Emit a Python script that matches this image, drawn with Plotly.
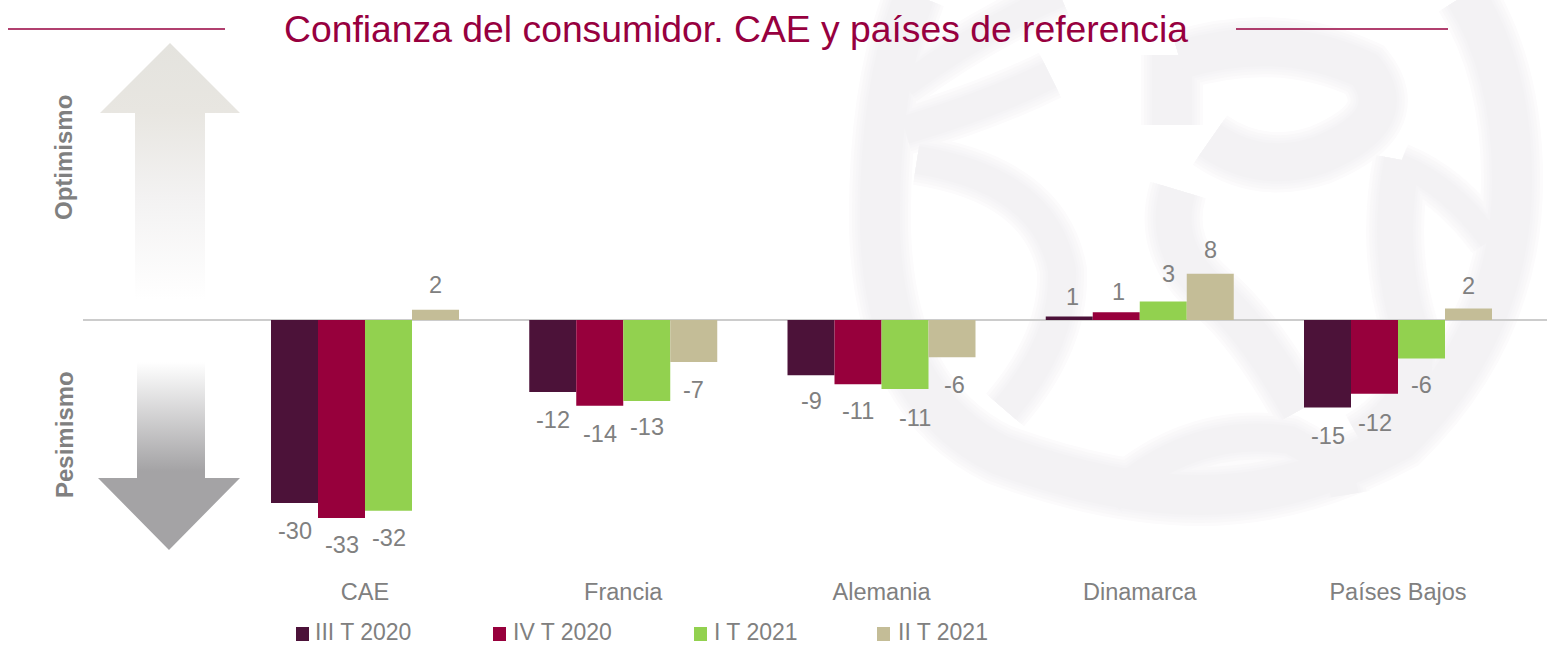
import plotly.graph_objects as go

W, H = 1551, 645

# ---- data ----
categories = ["CAE", "Francia", "Alemania", "Dinamarca", "Países Bajos"]
series_names = ["III T 2020", "IV T 2020", "I T 2021", "II T 2021"]
s_iii_2020 = [-30.5, -12.0, -9.2, 0.6, -14.6]
s_iv_2020 = [-33.0, -14.3, -10.7, 1.3, -12.3]
s_i_2021 = [-31.8, -13.5, -11.5, 3.1, -6.4]
s_ii_2021 = [1.7, -7.0, -6.2, 7.7, 1.9]
labels_iii_2020 = ["-30", "-12", "-9", "1", "-15"]
labels_iv_2020 = ["-33", "-14", "-11", "1", "-12"]
labels_i_2021 = ["-32", "-13", "-11", "3", "-6"]
labels_ii_2021 = ["2", "-7", "-6", "8", "2"]

values = [s_iii_2020, s_iv_2020, s_i_2021, s_ii_2021]
labels = [labels_iii_2020, labels_iv_2020, labels_i_2021, labels_ii_2021]

# ---- styling ----
colors = ["#4C1239", "#97003C", "#92D14F", "#C4BD97"]
GREY = "#808080"
CRIMSON = "#97003F"
FONT = "Liberation Sans"

# label nudges in pixels, per series then per category (dy positive = downwards)
label_dy = [[28, 28, 26, -19, 28], [27, 28, 27, -20, 29], [27, 26, 29, -27, 27], [-25, 28, 28, -24, -23]]
label_dx = [[0, 0, 0, 3, 0], [0, 0, 0, 2, 0], [0, 0, 10, 5, 0], [0, 0, 2, 0, 0]]
legend_square_x = [296, 493, 694, 877]
legend_text_x = [314, 512, 713, 897]
LEGEND_Y = 632

PX_PER_UNIT = 6
ZERO_Y, PLOT_TOP, PLOT_BOTTOM = 320, 40, 575
PLOT_LEFT, PLOT_RIGHT = 83, 1547
CAT0_X, CAT_STEP = 365, 258.25


def px(x):
    return x / W


def py(y):
    return 1 - y / H


fig = go.Figure()

# ---- bars ----
for name, v, c in zip(series_names, values, colors):
    fig.add_trace(go.Bar(name=name, x=categories, y=v, marker=dict(color=c, line=dict(width=0)),
                         showlegend=False, hoverinfo="x+y+name"))

# ---- data labels ----
for si, lab in enumerate(labels):
    for ci, t in enumerate(lab):
        fig.add_annotation(xref="x", yref="y", x=categories[ci], y=values[si][ci], text=t, showarrow=False,
                           xanchor="center", yanchor="middle",
                           xshift=(si - 1.5) * 47 + label_dx[si][ci], yshift=-label_dy[si][ci],
                           font=dict(family=FONT, size=23.5, color=GREY))

# ---- gradient arrows on a full-page pixel overlay ----
fig.add_trace(go.Scatter(x=[170, 240, 205, 205, 135, 135, 100, 170], y=[43, 113, 113, 300, 300, 113, 113, 43],
                         xaxis="x2", yaxis="y2", mode="lines", line=dict(width=0), fill="toself",
                         fillgradient=dict(type="vertical", colorscale=[[0, "#FFFFFF"], [0.4, "#F3F2F2"], [0.73, "#E8E6E1"], [1, "#E4E3DE"]]),
                         showlegend=False, hoverinfo="skip"))
fig.add_trace(go.Scatter(x=[137, 205, 205, 240, 169, 98, 137, 137], y=[362, 362, 478, 478, 550, 478, 478, 362],
                         xaxis="x2", yaxis="y2", mode="lines", line=dict(width=0), fill="toself",
                         fillgradient=dict(type="vertical", colorscale=[[0, "#A4A3A5"], [0.42, "#A4A3A5"], [1, "#FFFFFF"]]),
                         showlegend=False, hoverinfo="skip"))


# ---- soft watermark: strokes drawn wide and pale first, then narrow and darker ----
def path_of(points):
    d = "M%.4f,%.4f" % (px(points[0][0]), py(points[0][1]))
    rest = points[1:]
    for i in range(0, len(rest) - 1, 2):
        d += " Q%.4f,%.4f %.4f,%.4f" % (px(rest[i][0]), py(rest[i][1]), px(rest[i + 1][0]), py(rest[i + 1][1]))
    return d


wm_strokes = [
    ([(915, -5), (878, 90), (880, 230), (885, 400), (1000, 455), (1110, 495), (1200, 495), (1300, 495), (1400, 440), (1512, 330), (1512, 180), (1512, 70), (1465, -5)], 40),
    ([(905, 85), (980, 30), (1060, -5)], 24),
    ([(905, 130), (990, 105), (1050, 75)], 28),
    ([(917, 160), (1045, 180), (1062, 270), (1065, 340), (1005, 410)], 28),
    ([(1172, 55), (1172, 100), (1172, 125)], 40),
    ([(1180, 60), (1280, 30), (1365, 70), (1405, 120), (1320, 155), (1260, 175), (1210, 140)], 38),
    ([(1178, 190), (1160, 250), (1215, 295), (1255, 330), (1300, 410)], 36),
    ([(1402, 160), (1385, 250), (1410, 330), (1430, 400), (1360, 440)], 36),
    ([(1400, 165), (1450, 185), (1490, 240)], 22),
    ([(1110, 500), (1190, 425), (1290, 440), (1340, 465), (1345, 495)], 28),
]
shapes = []
for extra, col in [(22, "#FCFBFC"), (16, "#F9F8F9"), (10, "#F7F6F8"), (5, "#F5F4F6"), (0, "#F3F2F4")]:
    for pts, w in wm_strokes:
        shapes.append(dict(type="path", xref="paper", yref="paper", path=path_of(pts), layer="below",
                           line=dict(color=col, width=w + extra), fillcolor="rgba(0,0,0,0)"))

# ---- title rules ----
for x0, x1 in [(8, 225), (1236, 1448)]:
    shapes.append(dict(type="line", xref="paper", yref="paper", x0=px(x0), x1=px(x1), y0=py(29), y1=py(29),
                       layer="above", line=dict(color=CRIMSON, width=1.5)))

# ---- side labels ----
for text, yc in [("Optimismo", 158), ("Pesimismo", 435)]:
    fig.add_annotation(xref="paper", yref="paper", x=px(64), y=py(yc), text="<b>%s</b>" % text, showarrow=False,
                       textangle=-90, xanchor="center", yanchor="middle",
                       font=dict(family=FONT, size=24, color=GREY))

# ---- legend row ----
for name, c, sx, tx in zip(series_names, colors, legend_square_x, legend_text_x):
    shapes.append(dict(type="rect", xref="paper", yref="paper", x0=px(sx), x1=px(sx + 13),
                       y0=py(627), y1=py(641), layer="above", line=dict(width=0), fillcolor=c))
    fig.add_annotation(xref="paper", yref="paper", x=px(tx), y=py(LEGEND_Y), text=name, showarrow=False,
                       xanchor="left", yanchor="middle", xshift=-1,
                       font=dict(family=FONT, size=23, color=GREY))

fig.update_layout(
    width=W, height=H, autosize=False,
    margin=dict(l=0, r=0, t=0, b=0),
    paper_bgcolor="white", plot_bgcolor="rgba(0,0,0,0)",
    barmode="group", bargap=0.272, bargroupgap=0,
    showlegend=False,
    title=dict(text="Confianza del consumidor. CAE y países de referencia", x=px(736), y=py(29),
               xanchor="center", yanchor="middle", xref="paper", yref="paper",
               font=dict(family=FONT, size=37.3, color=CRIMSON)),
    shapes=shapes,
    xaxis=dict(domain=[px(PLOT_LEFT), px(PLOT_RIGHT)], type="category", categoryorder="array", categoryarray=categories,
               range=[(PLOT_LEFT - CAT0_X) / CAT_STEP, (PLOT_RIGHT - CAT0_X) / CAT_STEP],
               showgrid=False, showline=False, ticks="", zeroline=False, ticklabelstandoff=0,
               tickfont=dict(family=FONT, size=23.5, color=GREY), anchor="y"),
    yaxis=dict(domain=[py(PLOT_BOTTOM), py(PLOT_TOP)],
               range=[(ZERO_Y - PLOT_BOTTOM) / PX_PER_UNIT, (ZERO_Y - PLOT_TOP) / PX_PER_UNIT],
               showgrid=False, showticklabels=False, ticks="", showline=False,
               zeroline=True, zerolinecolor="#CCCCCC", zerolinewidth=2),
    xaxis2=dict(domain=[0, 1], range=[0, W], visible=False, anchor="y2", fixedrange=True),
    yaxis2=dict(domain=[0, 1], range=[H, 0], visible=False, anchor="x2", fixedrange=True),
)

fig.write_html("out.html", config=dict(displayModeBar=False), post_script="document.body.style.margin='0';")
